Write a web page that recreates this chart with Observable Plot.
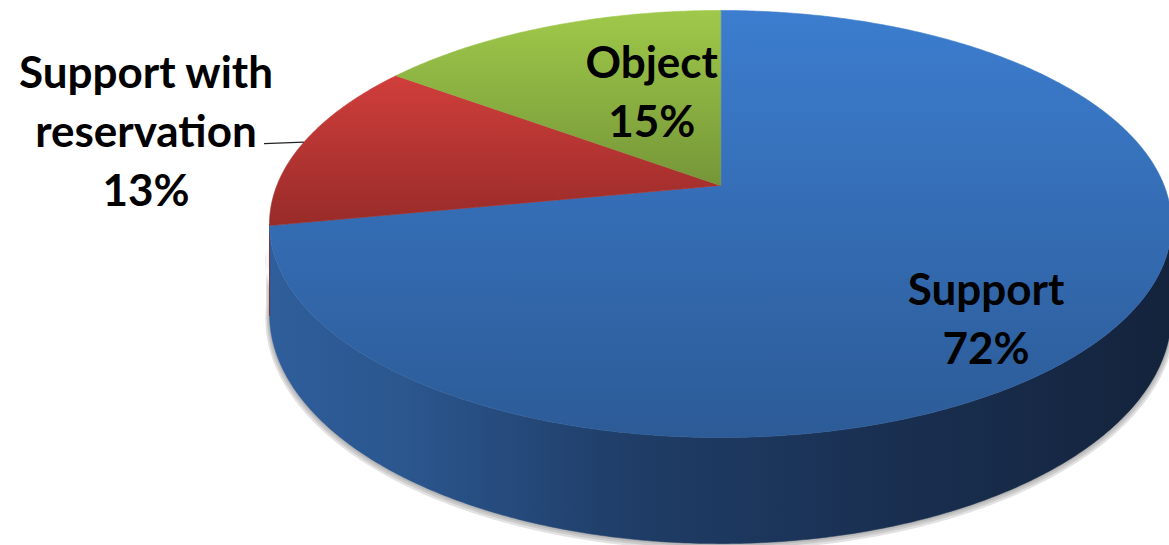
<!DOCTYPE html>
<html><head><meta charset="utf-8">
<script src="https://cdn.jsdelivr.net/npm/d3@7"></script>
<script src="https://cdn.jsdelivr.net/npm/@observablehq/plot@0.6"></script>
<style>html,body{margin:0;padding:0;background:#fff;overflow:hidden}</style>
</head><body><div id="chart"></div>
<script>
// ---- data ----
const categories = ["Support", "Support with reservation", "Object"];
const displayNames = ["Support", "Support with\nreservation", "Object"];
const shares = [72, 13, 15];

// ---- styles / geometry ----
const W = 1169, H = 545;
const K = 0.1803;      // perspective strength
const DEPTH = 0.421;   // pie thickness in y units
const topGrad = [["#3c7dcf", "#2c5b97"], ["#d03e3b", "#982b29"], ["#9fc94a", "#759638"]];
const sideFill = ["url(#sideBlue)", "#7a2220", "#5f7a2c"];
const labelRadius = [0.75, 1.0, 0.55];
const labelNudge = [[-15, 22], [-158, -14], [33, -4]];
const FONT = 44;
const shadowLayers = [[1.003, 1.012], [1.006, 1.024], [1.009, 1.036]];

function project(theta, r, w) {
  const u = r * Math.sin(theta), v = r * Math.cos(theta);
  const d = 1 + K * v;
  return {x: u / d, y: (-v + DEPTH * w) / d};
}
const total = d3.sum(shares);
let acc = 0;
const slices = categories.map((c, i) => {
  const a0 = acc / total * 2 * Math.PI; acc += shares[i];
  const a1 = acc / total * 2 * Math.PI;
  return {key: c, i, a0, a1, mid: (a0 + a1) / 2, share: shares[i], name: displayNames[i]};
});
const STEP = Math.PI / 360;
function arcPts(a0, a1, r, w) {
  const n = Math.max(2, Math.ceil((a1 - a0) / STEP));
  return d3.range(n + 1).map(j => project(a0 + (a1 - a0) * j / n, r, w));
}
const topPolys = slices.map(s => [project(0, 0, 0), ...arcPts(s.a0, s.a1, 1, 0)]);
const thR = Math.acos(-K), thL = 2 * Math.PI - Math.acos(-K);
const sidePolys = slices.map(s => {
  const a0 = Math.max(s.a0, thR), a1 = Math.min(s.a1, thL);
  if (a1 <= a0) return null;
  return {i: s.i, pts: [...arcPts(a0, a1, 1, 0), ...arcPts(a0, a1, 1, 1).reverse()]};
}).filter(Boolean);
// soft shadow (stacked translucent bands) under the visible side
const shadowPolys = shadowLayers.map(([r, w]) => [...arcPts(thR - 0.05, thL + 0.05, r, 0.4), ...arcPts(thR - 0.05, thL + 0.05, r, w).reverse()]);

const labels = slices.map(s => ({...project(s.mid, labelRadius[s.i], 0), text: s.name + "\n" + s.share + "%", i: s.i}));
const leaderEnd = project(slices[1].mid, 1, 0);
const leader = [{x1: leaderEnd.x - 40 / 443.6, y1: leaderEnd.y + 1.5 / 206.6, x2: leaderEnd.x, y2: leaderEnd.y}];

const marks = [];
shadowPolys.forEach(p => marks.push(Plot.line(p, {x: "x", y: "y", fill: "#7a7a7a", fillOpacity: 0.22, stroke: "none", curve: "linear-closed"})));
sidePolys.forEach(p => marks.push(Plot.line(p.pts, {x: "x", y: "y", fill: sideFill[p.i], stroke: sideFill[p.i], strokeWidth: 0.5, curve: "linear-closed"})));
topPolys.forEach((pts, i) => marks.push(Plot.line(pts, {x: "x", y: "y", fill: `url(#top${i})`, stroke: `url(#top${i})`, strokeWidth: 0.6, curve: "linear-closed"})));
marks.push(Plot.link(leader, {x1: "x1", y1: "y1", x2: "x2", y2: "y2", stroke: "#222", strokeWidth: 1.3}));
labels.forEach(l => marks.push(Plot.text([l], {x: "x", y: "y", text: "text", dx: labelNudge[l.i][0], dy: labelNudge[l.i][1],
  fontSize: FONT, fontWeight: 700, fontFamily: "Lato, 'Open Sans', sans-serif", lineHeight: 1.34, textAnchor: "middle", lineAnchor: "middle", fill: "#000"})));

const plot = Plot.plot({
  width: W, height: H, margin: 0,
  x: {type: "linear", domain: [-720 / 443.6, (W - 720) / 443.6], range: [0, W], axis: null},
  y: {type: "linear", domain: [-185 / 206.6, (H - 185) / 206.6], range: [0, H], axis: null},
  style: {background: "#fff"},
  marks
});

const svg = d3.select(plot);
const defs = svg.insert("defs", ":first-child");
topGrad.forEach((g, i) => {
  const lg = defs.append("linearGradient").attr("id", `top${i}`).attr("x1", 0).attr("y1", 0).attr("x2", 0).attr("y2", 1);
  lg.append("stop").attr("offset", 0).attr("stop-color", g[0]);
  lg.append("stop").attr("offset", 1).attr("stop-color", g[1]);
});
const sg = defs.append("linearGradient").attr("id", "sideBlue").attr("x1", 0).attr("y1", 0).attr("x2", 1).attr("y2", 0);
[[0, "#2f5e9b"], [0.15, "#2b568e"], [0.4, "#1f3d67"], [0.65, "#1a3154"], [1, "#14233c"]].forEach(([o, c]) =>
  sg.append("stop").attr("offset", o).attr("stop-color", c));

document.getElementById("chart").appendChild(plot);
</script></body></html>
